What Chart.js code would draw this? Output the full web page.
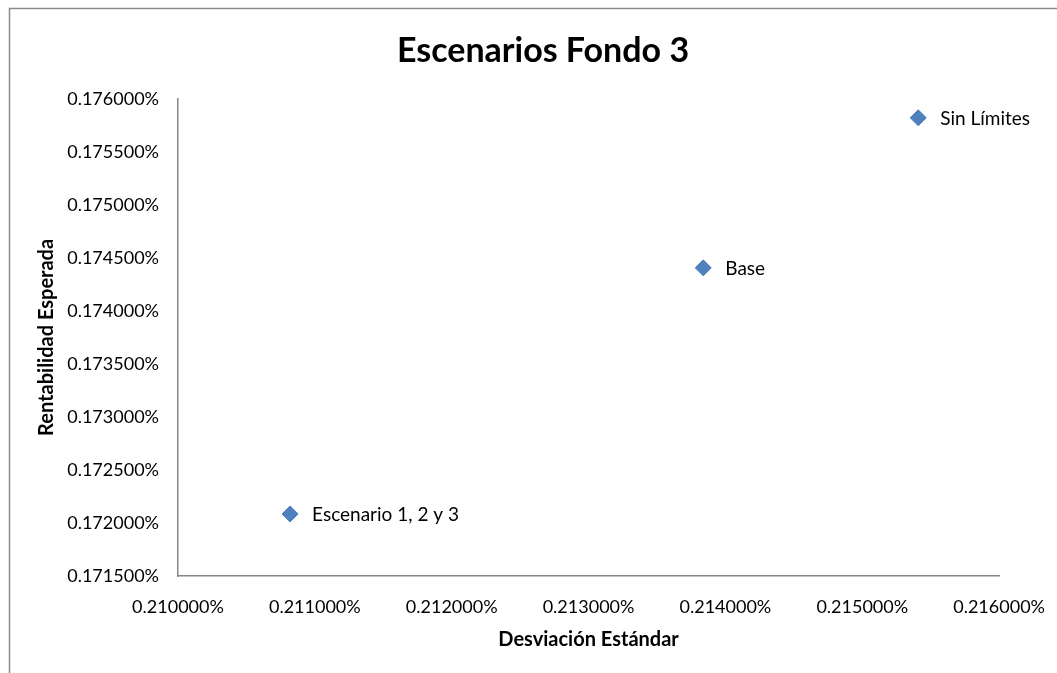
<!DOCTYPE html>
<html>
<head>
<meta charset="utf-8">
<script src="https://cdn.jsdelivr.net/npm/chart.js@4/dist/chart.umd.min.js"></script>
<style>
  html, body { margin: 0; padding: 0; background: #fff; }
  #wrap { width: 1057px; height: 673px; position: relative; }
</style>
</head>
<body>
<div id="wrap"><canvas id="scatterChart" width="1057" height="673"></canvas></div>
<script>
// values in percent
const SCENARIOS = ['Escenario 1, 2 y 3', 'Base', 'Sin Límites'];
const STD_DEV = [0.210819, 0.213838, 0.215409];
const EXP_RETURN = [0.172085, 0.174406, 0.175821];

const X_MIN = 0.210, X_MAX = 0.216, X_STEP = 0.001;
const Y_MIN = 0.1715, Y_MAX = 0.176, Y_STEP = 0.0005;

const FONT = 'Lato, "Open Sans", sans-serif';
const AXIS_GREY = '#868686';

const points = STD_DEV.map((x, i) => ({ x: x, y: EXP_RETURN[i] }));

// frame around the chart, it runs past the window on the right and bottom
const framePlugin = {
    id: 'frame',
    beforeDraw(chart) {
        const ctx = chart.ctx;
        ctx.save();
        ctx.strokeStyle = '#8c8c8c';
        ctx.lineWidth = 1.5;
        ctx.beginPath();
        ctx.moveTo(9.5, 700);
        ctx.lineTo(9.5, 8.5);
        ctx.lineTo(1100, 8.5);
        ctx.stroke();
        ctx.restore();
    }
};

// category names written next to each marker
const pointLabels = {
    id: 'pointLabels',
    afterDatasetsDraw(chart) {
        const ctx = chart.ctx;
        const meta = chart.getDatasetMeta(0);
        ctx.save();
        ctx.font = '19px ' + FONT;
        ctx.fillStyle = '#000';
        ctx.textAlign = 'left';
        ctx.textBaseline = 'middle';
        meta.data.forEach((pt, i) => {
            ctx.fillText(SCENARIOS[i], pt.x + 22, pt.y + 1);
        });
        ctx.restore();
    }
};

// the title in the original sits a little right of the canvas centre
const titleShift = {
    id: 'titleShift',
    afterLayout(chart) {
        if (chart.titleBlock) chart.titleBlock.left = 81;
    }
};

const pct = v => Number(v).toFixed(6) + '%';

const configScatter = {
    type: 'scatter',
    data: {
        datasets: [{
            label: 'Escenarios',
            data: points,
            pointStyle: 'rectRot',
            pointRadius: 8,
            pointHoverRadius: 8,
            backgroundColor: '#4F81BD',
            borderColor: '#4A7EBB',
            borderWidth: 1
        }]
    },
    options: {
        responsive: false,
        animation: false,
        layout: { padding: { left: 0, right: 52, top: 0, bottom: 0 } },
        plugins: {
            legend: { display: false },
            tooltip: { enabled: false },
            title: {
                display: true,
                text: 'Escenarios Fondo 3',
                color: '#000',
                font: { family: FONT, size: 34, weight: 'bold' },
                padding: { top: 31, bottom: 27 }
            }
        },
        scales: {
            x: {
                type: 'linear',
                min: X_MIN,
                max: X_MAX,
                grid: { display: false },
                border: { display: true, color: AXIS_GREY, width: 1.5 },
                ticks: {
                    stepSize: X_STEP,
                    color: '#000',
                    font: { family: FONT, size: 18 },
                    padding: 12,
                    maxRotation: 0,
                    callback: pct
                },
                title: {
                    display: true,
                    text: 'Desviación Estándar',
                    color: '#000',
                    font: { family: FONT, size: 20, weight: 'bold' },
                    padding: { top: 0, bottom: 21 }
                },
                afterFit(scale) { scale.height = 97; }
            },
            y: {
                type: 'linear',
                min: Y_MIN,
                max: Y_MAX,
                grid: { display: false },
                border: { display: true, color: AXIS_GREY, width: 1.5 },
                ticks: {
                    stepSize: Y_STEP,
                    color: '#000',
                    font: { family: FONT, size: 18 },
                    padding: 11,
                    callback: pct
                },
                title: {
                    display: true,
                    text: 'Rentabilidad Esperada',
                    color: '#000',
                    font: { family: FONT, size: 20, weight: 'bold' },
                    padding: { top: 35, bottom: 0 }
                },
                afterFit(scale) { scale.width = 178; }
            }
        }
    },
    plugins: [framePlugin, pointLabels, titleShift]
};

var scatterChart = new Chart(
    document.getElementById('scatterChart'),
    configScatter
);
</script>
</body>
</html>
